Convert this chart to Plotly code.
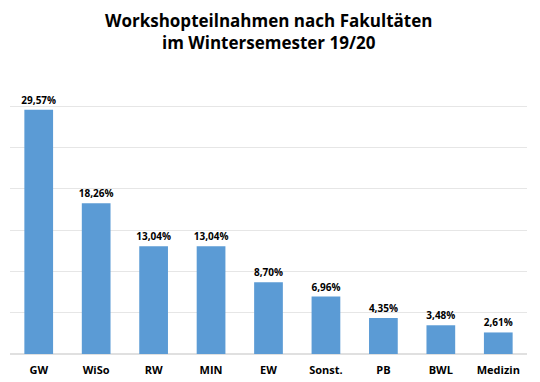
import plotly.graph_objects as go

categories = ["GW", "WiSo", "RW", "MIN", "EW", "Sonst.", "PB", "BWL", "Medizin"]
values = [29.57, 18.26, 13.04, 13.04, 8.70, 6.96, 4.35, 3.48, 2.61]
labels = [f"{v:.2f}%".replace(".", ",") for v in values]

fig = go.Figure(go.Bar(
    x=categories, y=values, text=labels, textposition="outside",
    constraintext="none",
    textfont=dict(family="Open Sans", size=10, color="#000000", weight="bold"),
    marker=dict(color="#5b9bd5", line=dict(width=0)),
    cliponaxis=False,
))
fig.update_layout(
    width=540, height=382,
    margin=dict(l=10, r=13, t=65, b=28),
    paper_bgcolor="white", plot_bgcolor="white",
    bargap=0.5,
    showlegend=False,
    annotations=[dict(
        text="Workshopteilnahmen nach Fakultäten<br>im Wintersemester 19/20",
        x=0.5, xref="paper", xanchor="center",
        y=1.117, yref="paper", yanchor="middle",
        showarrow=False, align="center",
        font=dict(family="Open Sans", size=17, color="#000000", weight="bold"),
    )],
    xaxis=dict(showline=False, ticks="", ticklabelstandoff=8, automargin=False,
               tickfont=dict(family="Open Sans", size=11, color="#000000", weight="bold")),
    yaxis=dict(range=[0, 35], dtick=5, showticklabels=False, automargin=False,
               gridcolor="#e6e6e6", gridwidth=1, zeroline=True, zerolinecolor="#e0e0e0"),
)
fig.write_html("out.html")
